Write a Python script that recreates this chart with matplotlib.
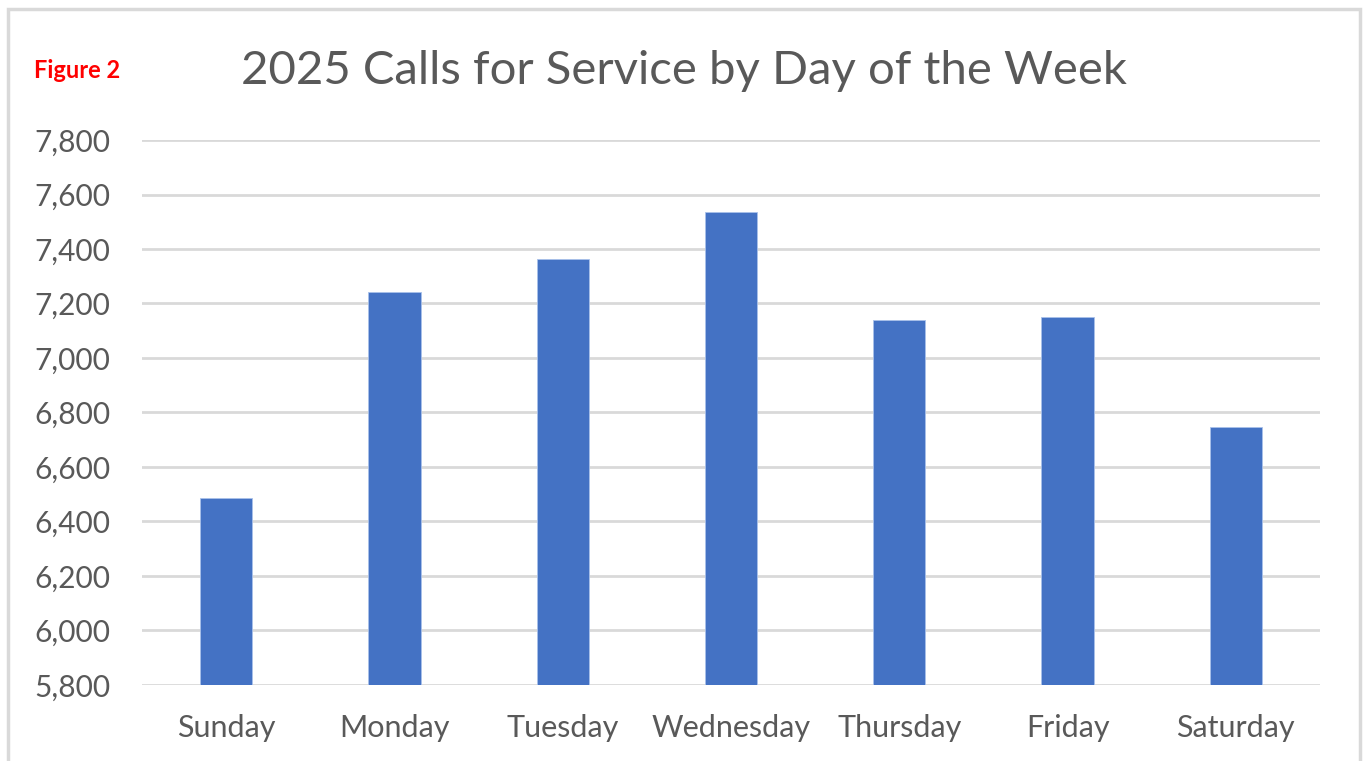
import matplotlib
matplotlib.use("Agg")
import matplotlib.pyplot as plt
from matplotlib.patches import Rectangle
from matplotlib.ticker import FuncFormatter, MultipleLocator

days = ["Sunday", "Monday", "Tuesday", "Wednesday", "Thursday", "Friday", "Saturday"]
calls = [6488, 7242, 7363, 7536, 7139, 7150, 6747]
y_min, y_max, y_step = 5800, 7800, 200
title = "2025 Calls for Service by Day of the Week"
fig_label = "Figure 2"

plt.rcParams['font.family'] = ['Lato', 'DejaVu Sans']

fig = plt.figure(figsize=(13.66, 7.61), dpi=100)
W, H = 1366, 761
ax = fig.add_axes([142 / W, 1 - 685 / H, (1320 - 142) / W, (685 - 140) / H])

x = range(len(days))
ax.bar(x, calls, width=0.31, color="#4472C4", edgecolor="#a9c1ea", linewidth=0.6, zorder=3)
ax.set_xlim(-0.5, len(days) - 0.5)
ax.set_ylim(y_min, y_max)
ax.yaxis.set_major_locator(MultipleLocator(y_step))
ax.yaxis.set_major_formatter(FuncFormatter(lambda v, p: f"{int(v):,}"))
ax.set_xticks(list(x))
ax.set_xticklabels(days)
ax.grid(axis="y", color="#d9d9d9", linewidth=2, zorder=0)
for s in ax.spines.values():
    s.set_visible(False)
ax.tick_params(axis="both", length=0, colors="#595959")
ax.tick_params(axis="y", pad=23, labelsize=21.5)
ax.tick_params(axis="x", pad=21, labelsize=22)

fig.text(684 / W, 1 - 71 / H, title, ha="center", va="center", fontsize=34, color="#595959")
fig.text(34 / W, 1 - 71 / H, fig_label, ha="left", va="center", fontsize=17, color="#ff0000",
         fontweight="bold")

fig.patches.append(Rectangle((8 / W, -0.01), (1360 - 8) / W, 1 - 9 / H + 0.01,
                             transform=fig.transFigure, fill=False, edgecolor="#d9d9d9",
                             linewidth=2.5))

fig.savefig("out.png", dpi=100)
